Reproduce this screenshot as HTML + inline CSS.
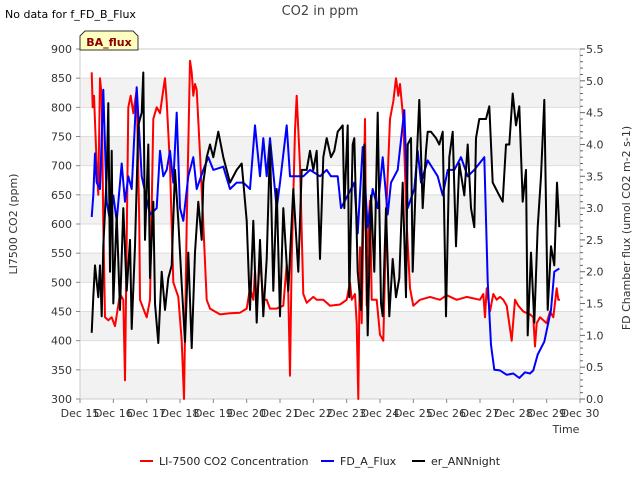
<!DOCTYPE html>
<html><head><meta charset="utf-8"><style>
body{margin:0;background:#fff;font-family:"Liberation Sans","DejaVu Sans",sans-serif}
svg text{font-family:"DejaVu Sans","Liberation Sans",sans-serif}
</style></head><body>
<svg id="chart" width="640" height="480" xmlns="http://www.w3.org/2000/svg">
<rect width="640" height="480" fill="#fff"/>
<g id="bands"></g>
<g id="grid"></g>
<rect x="80" y="49" width="500" height="350" fill="none" stroke="#ccc"/>
<g id="series"></g>
<g id="axes" font-size="11" fill="#333"></g>
<text x="320" y="15" text-anchor="middle" font-size="13" fill="#444">CO2 in ppm</text>
<text x="5" y="18" font-size="11" fill="#000">No data for f_FD_B_Flux</text>
<g>
<path d="M80,50 L80,36 L85,31 L133,31 L138,36 L138,50 Z" fill="#ffffc0" stroke="#333"/>
<text x="109" y="46" text-anchor="middle" font-size="11" font-weight="bold" fill="#8b0000">BA_flux</text>
</g>
<text transform="translate(17,224) rotate(-90)" text-anchor="middle" font-size="11" fill="#333">LI7500 CO2 (ppm)</text>
<text transform="translate(630,228) rotate(-90)" text-anchor="middle" font-size="11" fill="#333">FD Chamber flux (umol CO2 m-2 s-1)</text>
<text x="566" y="433" text-anchor="middle" font-size="11" fill="#333">Time</text>
<g font-size="11" fill="#222">
<g><line x1="140" y1="461" x2="153" y2="461" stroke="#f00" stroke-width="2"/><text x="159" y="465">LI-7500 CO2 Concentration</text></g>
<g><line x1="321" y1="461" x2="334" y2="461" stroke="#00f" stroke-width="2"/><text x="340" y="465">FD_A_Flux</text></g>
<g><line x1="412" y1="461" x2="425" y2="461" stroke="#000" stroke-width="2"/><text x="431" y="465">er_ANNnight</text></g>
</g>
</svg>
<script>
const xTickLabels=["Dec 15","Dec 16","Dec 17","Dec 18","Dec 19","Dec 20","Dec 21","Dec 22","Dec 23","Dec 24","Dec 25","Dec 26","Dec 27","Dec 28","Dec 29","Dec 30"];
const leftTicks=[300,350,400,450,500,550,600,650,700,750,800,850,900];
const rightTicks=[0.0,0.5,1.0,1.5,2.0,2.5,3.0,3.5,4.0,4.5,5.0,5.5];
const redDays=[0.35,0.38,0.42,0.5,0.55,0.6,0.65,0.7,0.75,0.85,0.95,1.05,1.12,1.2,1.3,1.35,1.45,1.52,1.6,1.7,1.78,1.8,1.9,2.0,2.1,2.2,2.3,2.4,2.5,2.55,2.6,2.7,2.8,2.95,3.05,3.12,3.2,3.3,3.35,3.4,3.45,3.5,3.6,3.7,3.8,3.9,4.2,4.5,4.8,5.0,5.1,5.2,5.25,5.3,5.4,5.5,5.6,5.7,5.9,6.1,6.2,6.25,6.3,6.35,6.45,6.5,6.6,6.7,6.8,7.0,7.1,7.3,7.4,7.5,7.8,8.0,8.1,8.15,8.25,8.3,8.35,8.4,8.45,8.55,8.6,8.65,8.7,8.75,8.9,9.0,9.1,9.2,9.3,9.4,9.48,9.55,9.6,9.7,9.8,9.9,10.0,10.2,10.5,10.8,11.0,11.3,11.6,12.0,12.1,12.15,12.2,12.3,12.4,12.5,12.6,12.7,12.8,12.95,13.05,13.15,13.3,13.5,13.6,13.65,13.7,13.8,14.0,14.1,14.2,14.3,14.35,14.4];
const redValues=[860,800,820,700,650,850,820,600,440,435,440,425,450,480,470,332,800,820,790,830,600,470,455,440,470,780,800,790,830,850,810,700,500,475,400,300,600,880,860,820,840,830,720,600,470,455,445,447,448,455,490,470,520,460,540,470,470,455,455,460,530,480,340,540,760,820,700,480,465,475,470,470,465,460,462,470,500,470,480,430,300,560,430,780,460,600,640,470,470,410,400,640,780,810,850,820,840,780,600,490,460,470,475,470,478,470,475,470,480,440,490,450,480,470,475,470,460,400,470,460,450,445,440,390,430,440,430,450,440,490,470,470];
const blueDays=[0.35,0.4,0.45,0.5,0.6,0.7,0.8,0.9,1.0,1.1,1.25,1.35,1.45,1.55,1.7,1.85,2.1,2.3,2.4,2.5,2.6,2.7,2.8,2.9,3.0,3.1,3.25,3.4,3.5,3.7,3.85,4.0,4.3,4.5,4.7,4.9,5.1,5.25,5.4,5.5,5.6,5.7,5.9,6.0,6.2,6.3,6.5,6.7,6.9,7.2,7.4,7.53,7.73,7.83,8.03,8.23,8.33,8.48,8.63,8.78,8.93,9.08,9.23,9.33,9.53,9.73,9.83,10.03,10.13,10.23,10.43,10.73,10.88,11.03,11.23,11.43,11.63,11.83,12.13,12.23,12.33,12.43,12.6,12.8,13.0,13.18,13.35,13.5,13.6,13.73,13.93,14.13,14.23,14.38];
const blueValues=[2.86,3.2,3.86,3.4,3.3,4.86,3.1,2.8,3.2,2.8,3.7,3.1,3.5,3.3,4.9,3.5,2.9,3.0,3.9,3.5,3.6,3.9,3.4,4.5,3.0,2.8,3.5,3.8,3.3,3.6,3.8,3.6,3.65,3.3,3.4,3.4,3.3,4.3,3.5,4.1,3.5,4.1,3.0,3.4,4.3,3.5,3.5,3.5,3.6,3.5,3.6,3.5,3.5,3.0,3.2,3.4,2.6,3.96,2.7,3.3,3.0,3.8,2.9,3.4,3.6,4.54,3.0,3.3,3.9,3.4,3.75,3.5,3.2,3.6,3.6,3.8,3.5,3.6,3.8,1.85,0.85,0.46,0.45,0.38,0.4,0.33,0.42,0.4,0.45,0.7,0.9,1.4,2.0,2.05];
const blackDays=[0.35,0.4,0.45,0.55,0.6,0.65,0.7,0.8,0.85,0.9,0.95,1.0,1.1,1.2,1.3,1.4,1.5,1.55,1.65,1.75,1.85,1.9,1.95,2.05,2.1,2.2,2.25,2.35,2.45,2.55,2.65,2.75,2.85,2.95,3.05,3.15,3.25,3.35,3.45,3.55,3.65,3.7,3.8,3.9,4.0,4.15,4.3,4.5,4.7,4.85,5.0,5.1,5.2,5.3,5.4,5.5,5.6,5.7,5.8,5.9,6.0,6.1,6.25,6.4,6.55,6.65,6.8,6.9,7.0,7.1,7.2,7.3,7.4,7.53,7.63,7.73,7.88,7.93,8.03,8.08,8.18,8.23,8.33,8.43,8.53,8.63,8.73,8.83,8.93,9.03,9.08,9.18,9.28,9.38,9.48,9.58,9.68,9.78,9.83,9.93,9.98,10.08,10.18,10.28,10.38,10.43,10.53,10.68,10.78,10.88,10.98,11.08,11.18,11.28,11.38,11.53,11.63,11.73,11.83,11.88,11.98,12.08,12.18,12.28,12.38,12.48,12.58,12.68,12.78,12.88,12.98,13.08,13.18,13.28,13.38,13.43,13.53,13.63,13.73,13.83,13.93,14.03,14.13,14.23,14.31,14.38];
const blackValues=[1.04,1.6,2.1,1.6,2.1,1.3,2.4,3.5,4.65,2.0,3.9,1.5,2.9,1.4,3.0,1.7,2.5,1.1,2.4,4.3,4.5,5.13,2.5,4.0,1.9,3.1,1.5,0.88,2.0,1.4,1.9,2.1,3.6,2.8,1.8,0.9,2.3,0.8,2.3,3.1,2.5,3.4,3.8,4.0,3.8,4.2,3.8,3.4,3.6,3.7,2.8,1.4,2.8,1.2,2.5,1.3,2.2,4.0,1.7,3.3,1.3,3.0,1.7,3.3,2.0,3.6,3.6,3.9,3.6,3.9,2.2,3.8,4.1,3.8,3.9,4.2,4.3,3.0,4.3,1.6,4.0,4.1,2.0,1.4,4.0,1.0,3.2,2.0,4.5,1.5,1.3,3.0,1.3,2.2,1.6,1.9,3.4,1.6,4.0,4.1,2.0,3.5,4.7,3.0,3.9,4.2,4.2,4.1,4.0,4.2,1.3,3.8,4.2,2.4,3.7,3.2,4.0,3.0,2.7,4.1,4.4,4.4,4.4,4.6,3.4,3.3,3.2,3.1,4.0,4.0,4.8,4.3,4.6,3.1,3.6,1.0,2.3,1.2,2.7,3.5,4.7,1.4,2.4,2.1,3.4,2.7];

const X0=80,X1=580,Y0=399,Y1=49;
const xs=d=>X0+d*(X1-X0)/15;
const yl=v=>Y0-(v-300)*(Y0-Y1)/600;
const yr=v=>Y0-v*(Y0-Y1)/5.5;
const NS="http://www.w3.org/2000/svg";
function mk(tag,attrs,parent){const e=document.createElementNS(NS,tag);for(const k in attrs)e.setAttribute(k,attrs[k]);parent.appendChild(e);return e;}
const bands=document.getElementById('bands'),grid=document.getElementById('grid'),axes=document.getElementById('axes'),series=document.getElementById('series');
for(let i=0;i<leftTicks.length-1;i++){
  if(i%2===0){const b=mk('rect',{x:X0,y:yl(leftTicks[i+1]),width:X1-X0,height:yl(leftTicks[i])-yl(leftTicks[i+1]),fill:'#f2f2f2'},bands);
  
  }
}
leftTicks.forEach(v=>{
  const g=mk('line',{x1:X0,x2:X1,y1:yl(v),y2:yl(v),stroke:'#ddd'},grid);
  
  
  mk('line',{x1:X0-4,x2:X0,y1:yl(v),y2:yl(v),stroke:'#888'},axes);
  const t=mk('text',{x:X0-8,y:yl(v)+4,'text-anchor':'end'},axes);t.textContent=v;
  
  
});
for(let k=0;k<=55;k++){mk('line',{x1:X1,x2:X1+(k%5===0?5:3),y1:yr(k/10),y2:yr(k/10),stroke:'#666'},axes);}
rightTicks.forEach(v=>{
  const t=mk('text',{x:X1+6,y:yr(v)+4,'text-anchor':'start'},axes);t.textContent=v.toFixed(1);
  
  
});
xTickLabels.forEach((s,i)=>{
  mk('line',{x1:xs(i),x2:xs(i),y1:Y0,y2:Y0+4,stroke:'#888'},axes);
  const t=mk('text',{x:xs(i),y:Y0+18,'text-anchor':'middle'},axes);t.textContent=s;
  
  
});
function line(days,vals,yf,color,name){
  const p=mk('polyline',{points:days.map((d,i)=>xs(d).toFixed(1)+','+yf(vals[i]).toFixed(1)).join(' '),fill:'none',stroke:color,'stroke-width':2,'stroke-linejoin':'round'},series);
  
  
}
line(redDays,redValues,yl,'#f00','li7500-co2-line');
line(blueDays,blueValues,yr,'#00f','fd-a-flux-line');
line(blackDays,blackValues,yr,'#000','er-annnight-line');
</script>
</body></html>
